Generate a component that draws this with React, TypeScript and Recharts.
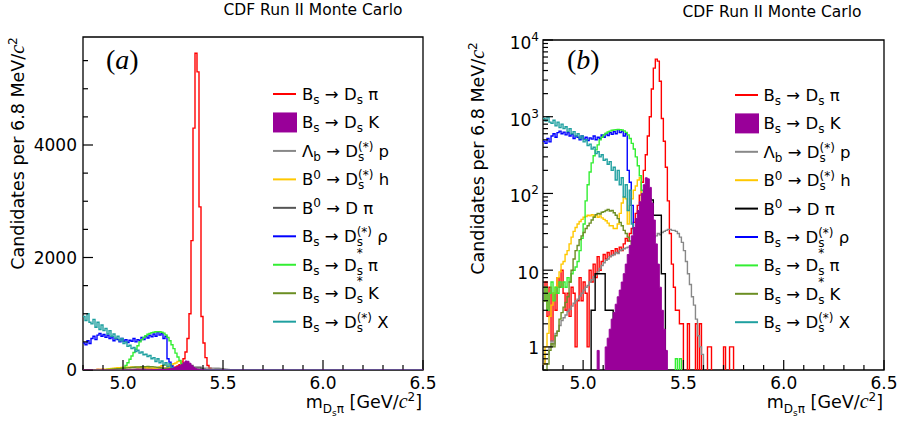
import React from "react";
import { ComposedChart, Line, Area, XAxis, YAxis, ReferenceArea } from "recharts";

// histogram bins: 10 MeV wide starting at 4.80, heights are candidates per 6.8 MeV
const BIN_LO = 4.8;
const BIN_W = 0.01;
const X_MIN = 4.8;
const X_MAX = 6.5;

const dsPi = [
  4, 7, 2.5, 6, 1.2, 5, 3, 8, 6, 10,
  5, 3, 5, 2.5, 6, 5, 1, 4, 8, 4,
  7, 5, 1, 10, 7, 12, 8, 15, 10, 13,
  16, 14, 17, 15, 18, 16, 19, 17, 20, 18,
  22, 26, 24, 30, 35, 42, 55, 70, 95, 140,
  200, 320, 560, 1000, 2300, 4300, 5630, 5300, 2900, 950,
  480, 220, 80, 30, 12, 6, 3, 3, 2, 2,
  0, 0, 2, 0, 0, 0, 2, 0, 2, 0,
  0, 0, 1, 1, 0, 0, 0, 0, 0, 0,
  1, 0, 0, 1, 1, 0,
];

const dsK = [
  0, 0, 0, 0, 0, 0, 0, 0, 0, 0,
  0, 0, 0, 0, 0, 0, 0, 0, 0, 0,
  0, 0, 0, 0, 0, 0, 0, 0.9, 0, 0,
  0, 1, 1.3, 1.7, 2.3, 2.8, 3.6, 4.5, 5.5, 7,
  9, 12, 16, 21, 28, 36, 47, 60, 78, 100,
  130, 160, 155, 120, 75, 45, 22, 12, 6, 3,
  1.7, 0.9, 0, 0, 0, 0, 0, 0, 0, 0,
  0, 0, 0, 0, 0, 0, 0, 0, 0, 0,
  0, 0, 0, 0, 0, 0, 0, 0, 0, 0,
  0, 0, 0, 0, 0, 0,
];

const lbP = [
  0.6, 0.8, 0.8, 1, 1.2, 1.1, 1.5, 1.6, 1.9, 2.2,
  2.4, 2.6, 2.9, 3.1, 3.4, 3.7, 4, 4.2, 4.6, 5,
  5.5, 6, 6.3, 7, 7.5, 8.2, 8.8, 9.5, 10.5, 11.5,
  12.5, 13.5, 14, 15, 15.5, 16, 17, 16.5, 18, 18.5,
  19, 19.5, 20, 20, 21, 21, 22, 22, 23, 23,
  24, 24, 25, 25, 26, 27, 28, 30, 29, 31,
  32, 33, 34, 34, 33, 33, 32, 30, 27, 23,
  18, 13, 9, 6.5, 4.5, 3.5, 2.3, 1.4, 1, 0.8,
  0, 0, 0, 0, 0, 0, 0, 0, 0, 0,
  0, 0, 0, 0, 0, 0,
];

const b0H = [
  0.6, 1, 1.5, 2.5, 3.5, 5, 6, 8, 9.5, 12,
  13, 16, 18, 22, 27, 32, 36, 40, 43, 46,
  49, 50, 52, 51, 53, 50, 52, 49, 51, 48,
  46, 44, 41, 38, 38, 35, 35, 40, 55, 75,
  90, 85, 40, 70, 85, 110, 125, 150, 160, 25,
  4, 0, 0, 0, 0, 0, 0, 0, 0, 0,
  0, 0, 0, 0, 0, 0, 0, 0, 0, 0,
  0, 0, 0, 0, 0, 0, 0, 0, 0, 0,
  0, 0, 0, 0, 0, 0, 0, 0, 0, 0,
  0, 0, 0, 0, 0, 0,
];

const b0DPi = [
  0, 0, 0, 0, 0, 0, 0, 0, 0, 0,
  0, 0, 0, 0, 0, 0, 0, 0, 0, 0,
  0, 0, 0, 0, 3, 3, 9, 9, 9, 9,
  9, 3, 3, 3, 3, 0, 0, 0, 0, 1,
  1, 2, 3, 5, 8, 12, 18, 28, 40, 55,
  70, 80, 88, 85, 82, 52, 52, 52, 52, 9,
  9, 0, 0, 0, 0, 0, 0, 0, 0, 0,
  0, 0, 0, 0, 0, 0, 0, 0, 0, 0,
  0, 0, 0, 0, 0, 0, 0, 0, 0, 0,
  0, 0, 0, 0, 0, 0,
];

const bsRho = [
  480, 450, 520, 470, 560, 600, 540, 620, 650, 600,
  630, 580, 620, 560, 590, 520, 560, 540, 500, 560,
  510, 540, 490, 530, 510, 560, 500, 540, 520, 580,
  540, 600, 570, 620, 590, 640, 600, 680, 620, 650,
  560, 600, 200, 140, 70, 35, 15, 5, 2, 0,
  0, 0, 0, 0, 0, 0, 0, 0, 0, 0,
  0, 0, 0, 0, 0, 0, 0, 0, 0, 0,
  0, 0, 0, 0, 0, 0, 0, 0, 0, 0,
  0, 0, 0, 0, 0, 0, 0, 0, 0, 0,
  0, 0, 0, 0, 0, 0,
];

const bsStPi = [
  4, 6, 3, 5, 7, 4, 6, 5, 7, 6,
  7, 6, 8, 7, 9, 10, 11, 13, 18, 26,
  40, 80, 130, 190, 250, 310, 370, 430, 500, 540,
  580, 610, 635, 650, 665, 672, 680, 682, 680, 672,
  655, 625, 580, 520, 450, 380, 300, 230, 170, 110,
  55, 18, 4, 0, 0, 0, 0, 0, 0, 0,
  0, 0, 0, 0, 0, 0, 0.7, 0, 0.7, 0,
  0, 0, 0, 0, 0, 0, 0, 0, 0, 0,
  0, 0, 0, 0, 0, 0, 0, 0, 0, 0,
  0, 0, 0, 0, 0, 0,
];

const bsStK = [
  0, 0.5, 0.6, 0.9, 1.1, 1, 1.4, 1.6, 2.3, 2.8,
  3.3, 3.8, 4.5, 7, 10, 14, 18, 21, 25, 28,
  31, 35, 38, 41, 45, 49, 53, 55, 54, 57,
  58, 60, 62, 59, 60, 56, 52, 47, 42, 38,
  33, 30, 27, 24, 21, 12, 3, 0, 0, 0,
  0, 0, 0, 0, 0, 0, 0, 0, 0, 0,
  0, 0, 0, 0, 0, 0, 0, 0, 0, 0,
  0, 0, 0, 0, 0, 0, 0, 0, 0, 0,
  0, 0, 0, 0, 0, 0, 0, 0, 0, 0,
  0, 0, 0, 0, 0, 0,
];

const bsX = [
  950, 880, 1000, 850, 820, 900, 760, 850, 720, 800,
  700, 740, 640, 700, 600, 640, 560, 600, 520, 560,
  470, 500, 420, 440, 380, 400, 330, 350, 300, 320,
  270, 280, 240, 260, 200, 220, 150, 200, 130, 160,
  90, 130, 60, 110, 40, 30, 0, 0, 0, 0,
  0, 0, 0, 0, 0, 0, 0, 0, 0, 0,
  0, 0, 0, 0, 0, 0, 0, 0, 0, 0,
  0, 0, 0, 0, 0, 0, 0, 0, 0, 0,
  0, 0, 0, 0, 0, 0, 0, 0, 0, 0,
  0, 0, 0, 0, 0, 0,
];

const xMajor = [5.0, 5.5, 6.0, 6.5];
const linMajor = [0, 2000, 4000];
const logMajor = [1, 10, 100, 1000, 10000];

const FONT = "'DejaVu Sans', sans-serif";
const SERIF = "'Liberation Serif', 'DejaVu Serif', serif";

type Part = [string, string];

const SERIES: { key: string; color: string; colorA?: string; label: Part[]; fill?: boolean }[] = [
  { key: "dsPi", color: "#ff0000", label: [["B", "n"], ["s", "sub"], [" \u2192 D", "n"], ["s", "sub"], [" \u03c0", "n"]] },
  { key: "dsK", color: "#990099", fill: true, label: [["B", "n"], ["s", "sub"], [" \u2192 D", "n"], ["s", "sub"], [" K", "n"]] },
  { key: "lbP", color: "#888888", label: [["\u039b", "n"], ["b", "sub"], [" \u2192 D", "n"], ["s", "sub"], ["(*)", "over"], [" p", "n"]] },
  { key: "b0H", color: "#ffc800", label: [["B", "n"], ["0", "sup"], [" \u2192 D", "n"], ["s", "sub"], ["(*)", "over"], [" h", "n"]] },
  { key: "b0DPi", color: "#000000", colorA: "#555555", label: [["B", "n"], ["0", "sup"], [" \u2192 D \u03c0", "n"]] },
  { key: "bsRho", color: "#0000ff", label: [["B", "n"], ["s", "sub"], [" \u2192 D", "n"], ["s", "sub"], ["(*)", "over"], [" \u03c1", "n"]] },
  { key: "bsStPi", color: "#33ee33", label: [["B", "n"], ["s", "sub"], [" \u2192 D", "n"], ["s", "sub"], ["*", "star"], [" \u03c0", "n"]] },
  { key: "bsStK", color: "#6b8e23", label: [["B", "n"], ["s", "sub"], [" \u2192 D", "n"], ["s", "sub"], ["*", "star"], [" K", "n"]] },
  { key: "bsX", color: "#1fa0a0", label: [["B", "n"], ["s", "sub"], [" \u2192 D", "n"], ["s", "sub"], ["(*)", "over"], [" X", "n"]] },
];

const VALUES: Record<string, number[]> = { dsPi, dsK, lbP, b0H, b0DPi, bsRho, bsStPi, bsStK, bsX };

function buildRows(log: boolean) {
  const fix = (v: number) => (log && v <= 0 ? 0.1 : v);
  const rows = dsPi.map((_, i) => {
    const r: Record<string, number> = { m: Math.round((BIN_LO + i * BIN_W) * 100) / 100 };
    SERIES.forEach((s) => (r[s.key] = fix(VALUES[s.key][i])));
    return r;
  });
  const end: Record<string, number> = { m: X_MAX };
  SERIES.forEach((s) => (end[s.key] = fix(0)));
  rows.push(end);
  return rows;
}
const rowsLin = buildRows(false);
const rowsLog = buildRows(true);

const xTicks = Array.from({ length: 18 }, (_, k) => Math.round((X_MIN + k * 0.1) * 10) / 10);
const linTicks = Array.from({ length: 12 }, (_, k) => k * 500);
const logTicks: number[] = [0.5, 0.6, 0.7, 0.8, 0.9];
logMajor.slice(0, 4).forEach((d) => {
  for (let k = 1; k <= 9; k++) logTicks.push(k * d);
});
logTicks.push(10000);

const near = (a: number, b: number) => Math.abs(a - b) < 1e-6 * Math.max(1, Math.abs(b));

function Rich({ x, y, parts, size = 16.5, small = 12, anchor = "start" }: any) {
  let off = 0;
  return (
    <text x={x} y={y} textAnchor={anchor} fontFamily={FONT} fontSize={size} fill="#000" style={{ whiteSpace: "pre" }}>
      {parts.map(([t, k]: Part, i: number) => {
        let target = 0;
        let fs = size;
        let dx = 0;
        if (k === "sub") { target = 4; fs = small; }
        if (k === "sup") { target = -6.5; fs = small; }
        if (k === "over") { target = -6; fs = small; dx = -small * 0.52; }
        if (k === "star") { target = -14; fs = small; dx = -small * 0.52; }
        const dy = target - off;
        off = target;
        return (
          <tspan key={i} dx={dx || undefined} dy={dy} fontSize={fs}>
            {t}
          </tspan>
        );
      })}
    </text>
  );
}

const BOTTOM = 370;
const PLOT_LEFT = 83;

function XTick(p: any) {
  const v = p.payload.value;
  const major = xMajor.some((m) => near(m, v));
  const len = major ? 10 : 5;
  return (
    <g>
      <line x1={p.x} x2={p.x} y1={BOTTOM} y2={BOTTOM - len} stroke="#000" strokeWidth={1.2} />
      {major && (
        <text x={p.x} y={388.5} textAnchor="middle" fontFamily={FONT} fontSize={17} fill="#000">
          {v.toFixed(1)}
        </text>
      )}
    </g>
  );
}

function LinYTick(p: any) {
  const v = p.payload.value;
  const major = linMajor.includes(v);
  const len = major ? 10 : 5;
  return (
    <g>
      <line x1={PLOT_LEFT} x2={PLOT_LEFT + len} y1={p.y} y2={p.y} stroke="#000" strokeWidth={1.2} />
      {major && (
        <text x={PLOT_LEFT - 6} y={p.y + 6} textAnchor="end" fontFamily={FONT} fontSize={17} fill="#000">
          {v}
        </text>
      )}
    </g>
  );
}

function LogYTick(p: any) {
  const v = p.payload.value;
  const major = logMajor.some((m) => near(m, v));
  const len = major ? 10 : 5;
  const exp = Math.round(Math.log10(v));
  return (
    <g>
      <line x1={PLOT_LEFT} x2={PLOT_LEFT + len} y1={p.y} y2={p.y} stroke="#000" strokeWidth={1.2} />
      {major && (
        <text x={PLOT_LEFT - 4} y={p.y + (exp === 0 ? 7 : 9)} textAnchor="end" fontFamily={FONT} fontSize={17} fill="#000">
          {exp === 0 ? "1" : "10"}
          {exp > 1 && (
            <tspan dy={-8} fontSize={12}>
              {exp}
            </tspan>
          )}
        </text>
      )}
    </g>
  );
}

// one chart layer; the purple fill gets its own layer on top so no line shows through it
function Panel({ log, left, top, right, fillLayer }: { log: boolean; left: number; top: number; right: number; fillLayer?: boolean }) {
  const rows = log ? rowsLog : rowsLin;
  const yDomain = log ? [0.5, 10000] : [0, 5920];
  const purple = SERIES[1];
  const lines = [SERIES[0], ...SERIES.filter((s) => !s.fill && s.key !== "dsPi")];
  return (
    <div style={{ position: "absolute", left, top: 0 }}>
      <ComposedChart width={449} height={421} data={rows} margin={{ top, right, bottom: 0, left: 0 }}>
        <XAxis
          dataKey="m"
          type="number"
          domain={[X_MIN, X_MAX]}
          ticks={xTicks}
          interval={0}
          allowDataOverflow
          height={51}
          axisLine={false}
          tickLine={false}
          tick={fillLayer ? false : XTick}
        />
        <YAxis
          type="number"
          scale={log ? "log" : "linear"}
          domain={yDomain}
          ticks={log ? logTicks : linTicks}
          interval={0}
          allowDataOverflow
          width={83}
          axisLine={false}
          tickLine={false}
          tick={fillLayer ? false : log ? LogYTick : LinYTick}
        />
        {!fillLayer && (
          <ReferenceArea
            x1={X_MIN}
            x2={X_MAX}
            y1={yDomain[0]}
            y2={yDomain[1]}
            fill="none"
            stroke="#000"
            strokeWidth={1.3}
            ifOverflow="visible"
          />
        )}
        {!fillLayer &&
          lines.map((s) => (
            <Line
              key={s.key}
              type="stepAfter"
              dataKey={s.key}
              stroke={!log && s.colorA ? s.colorA : s.color}
              strokeWidth={1.4}
              dot={false}
              activeDot={false}
              isAnimationActive={false}
            />
          ))}
        {fillLayer && (
          <Area
            type="stepAfter"
            dataKey={purple.key}
            stroke={purple.color}
            fill={purple.color}
            fillOpacity={1}
            strokeWidth={1}
            dot={false}
            activeDot={false}
            isAnimationActive={false}
          />
        )}
      </ComposedChart>
    </div>
  );
}

function Legend({ lineX, textX, rowY, gap, panelA }: any) {
  return (
    <g>
      {SERIES.map((s, i) => {
        const y = rowY + i * gap;
        const col = panelA && s.colorA ? s.colorA : s.color;
        return (
          <g key={s.key}>
            {s.fill ? (
              <rect x={lineX} y={y - 10} width={24} height={20} fill={col} />
            ) : (
              <line x1={lineX} x2={lineX + 23} y1={y} y2={y} stroke={col} strokeWidth={2} />
            )}
            <Rich x={textX} y={y + 6} parts={s.label} />
          </g>
        );
      })}
    </g>
  );
}

function YTitle({ x, y }: { x: number; y: number }) {
  return (
    <text transform={`translate(${x},${y}) rotate(-90)`} textAnchor="middle" fontFamily={FONT} fontSize={17.5} fill="#000">
      Candidates per 6.8 MeV/
      <tspan fontFamily={SERIF} fontStyle="italic" fontSize={20}>c</tspan>
      <tspan dy={-7} fontSize={12}>2</tspan>
    </text>
  );
}

function XTitle({ x }: { x: number }) {
  return (
    <text x={x} y={408} textAnchor="end" fontFamily={FONT} fontSize={17.5} fill="#000" style={{ whiteSpace: "pre" }}>
      m
      <tspan dy={5} fontSize={12}>D</tspan>
      <tspan dy={3} fontSize={9}>s</tspan>
      <tspan dy={-3} fontSize={12}>{"\u03c0"}</tspan>
      <tspan dy={-5}>{" [GeV/"}</tspan>
      <tspan fontFamily={SERIF} fontStyle="italic" fontSize={20}>c</tspan>
      <tspan dy={-7} fontSize={12}>2</tspan>
      <tspan dy={7}>]</tspan>
    </text>
  );
}

export default function App() {
  return (
    <div style={{ position: "absolute", left: 0, top: 0, width: 898, height: 421, background: "#fff" }}>
      <Panel log={false} left={0} top={37} right={26} />
      <Panel log={false} left={0} top={37} right={26} fillLayer />
      <Panel log={true} left={460} top={40} right={25} />
      <Panel log={true} left={460} top={40} right={25} fillLayer />
      <svg width={898} height={421} style={{ position: "absolute", left: 0, top: 0, pointerEvents: "none" }}>
        <text x={313} y={15} textAnchor="middle" fontFamily={FONT} fontSize={15.5} fill="#000">
          CDF Run II Monte Carlo
        </text>
        <text x={772} y={17} textAnchor="middle" fontFamily={FONT} fontSize={15.5} fill="#000">
          CDF Run II Monte Carlo
        </text>
        <text x={106} y={69} fontFamily={SERIF} fontSize={28} fill="#000">
          (<tspan fontStyle="italic">a</tspan>)
        </text>
        <text x={567} y={69} fontFamily={SERIF} fontSize={28} fill="#000">
          (<tspan fontStyle="italic">b</tspan>)
        </text>
        <YTitle x={23.5} y={153.5} />
        <YTitle x={483.5} y={158.5} />
        <XTitle x={422} />
        <XTitle x={883} />
        <Legend lineX={273} textX={302} rowY={94} gap={28.46} panelA />
        <Legend lineX={735} textX={763.5} rowY={95} gap={28.4} />
      </svg>
    </div>
  );
}
